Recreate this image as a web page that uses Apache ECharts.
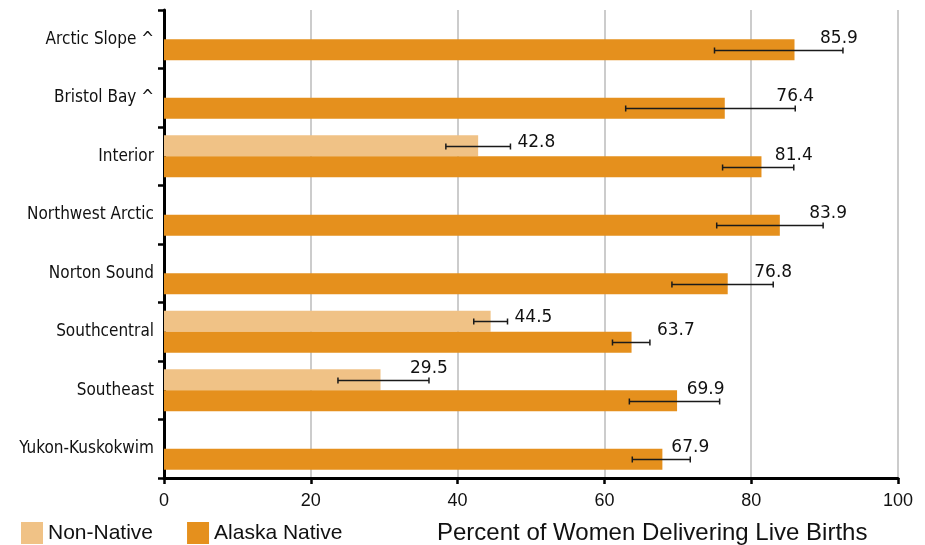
<!DOCTYPE html>
<html>
<head>
<meta charset="utf-8">
<script src="https://cdn.jsdelivr.net/npm/echarts@6/dist/echarts.min.js"></script>
<style>
  html, body { margin: 0; padding: 0; background: #fff; }
  #chart { width: 925px; height: 545px; }
</style>
</head>
<body>
<div id="chart"></div>
<script>
var categories = ['Arctic Slope ^', 'Bristol Bay ^', 'Interior', 'Northwest Arctic', 'Norton Sound', 'Southcentral', 'Southeast', 'Yukon-Kuskokwim']
var nonNative = [null, null, 42.8, null, null, 44.5, 29.5, null]
var nonNativeLow = [null, null, 38.4, null, null, 42.2, 23.7, null]
var nonNativeHigh = [null, null, 47.2, null, null, 46.8, 36.1, null]
var alaskaNative = [85.9, 76.4, 81.4, 83.9, 76.8, 63.7, 69.9, 67.9]
var alaskaNativeLow = [75.0, 62.9, 76.1, 75.3, 69.2, 61.1, 63.4, 63.8]
var alaskaNativeHigh = [92.5, 86.0, 85.8, 89.8, 83.0, 66.2, 75.7, 71.7]
var xMin = 0
var xMax = 100
var xStep = 20

var BAR_W = 21
var labelFont = '17px "DejaVu Sans", sans-serif'
// where each value label sits next to its error bar (hand placed in the original)
var labelNudge = {
  'nn2': { side: true },
  'nn5': { side: true },
  'an0': { dx: -4 },
  'an3': { dx: 5 },
  'an5': { dx: 26 },
  'an6': { dx: -14 }
}

function errData(vals, lows, highs) {
  var out = []
  for (var i = 0; i < vals.length; i++) {
    if (vals[i] == null) continue
    out.push([i, lows[i], highs[i], vals[i]])
  }
  return out
}

function errRenderer(key, offset) {
  return function (params, api) {
    var cat = api.value(0)
    var p1 = api.coord([api.value(1), cat])
    var p2 = api.coord([api.value(2), cat])
    var y = Math.round(p1[1] + offset) + 0.5
    var cap = 3
    var nudge = labelNudge[key + cat] || {}
    var text
    if (nudge.side) {
      text = { type: 'text', style: { text: api.value(3).toFixed(1), x: p2[0] + 7, y: y - 4, fill: '#111', font: labelFont, align: 'left', verticalAlign: 'middle' } }
    } else {
      text = { type: 'text', style: { text: api.value(3).toFixed(1), x: p2[0] + (nudge.dx || 0), y: y - 12, fill: '#111', font: labelFont, align: 'center', verticalAlign: 'middle' } }
    }
    var ls = { stroke: '#1a1a1a', lineWidth: 1.5 }
    return {
      type: 'group',
      children: [
        { type: 'line', shape: { x1: p1[0], y1: y, x2: p2[0], y2: y }, style: ls },
        { type: 'line', shape: { x1: p1[0], y1: y - cap, x2: p1[0], y2: y + cap }, style: ls },
        { type: 'line', shape: { x1: p2[0], y1: y - cap, x2: p2[0], y2: y + cap }, style: ls },
        text
      ]
    }
  }
}

var chart = echarts.init(document.getElementById('chart'))
chart.setOption({
  backgroundColor: '#fff',
  animation: false,
  title: {
    text: 'Percent of Women Delivering Live Births',
    left: 437,
    top: 521,
    padding: 0,
    textStyle: { fontFamily: 'Liberation Sans', fontSize: 24, fontWeight: 'normal', color: '#111' }
  },
  legend: {
    left: 21,
    top: 522,
    padding: 0,
    icon: 'rect',
    itemWidth: 22,
    itemHeight: 22,
    itemGap: 34,
    selectedMode: false,
    data: ['Non-Native', 'Alaska Native'],
    textStyle: { fontFamily: 'Liberation Sans', fontSize: 21, color: '#111', padding: [0, 0, 0, 0] }
  },
  grid: {
    left: 164,
    right: 27,
    top: 10,
    bottom: 67,
    containLabel: false
  },
  xAxis: {
    type: 'value',
    min: xMin,
    max: xMax,
    interval: xStep,
    axisLine: { show: true, lineStyle: { color: '#000', width: 3 } },
    axisTick: { show: true, length: 6, lineStyle: { color: '#000', width: 2.5 } },
    axisLabel: { margin: 14, fontFamily: 'Liberation Sans', fontSize: 18, color: '#111' },
    splitLine: { show: true, lineStyle: { color: '#cccccc', width: 2 } }
  },
  yAxis: {
    type: 'category',
    inverse: true,
    data: categories,
    axisLine: { show: true, lineStyle: { color: '#000', width: 3 } },
    axisTick: { show: true, length: 6, lineStyle: { color: '#000', width: 2.5 } },
    axisLabel: { margin: 10, fontFamily: '"Liberation Sans Narrow", "DejaVu Sans Condensed", sans-serif', fontSize: 17, color: '#111' },
    splitLine: { show: false }
  },
  series: [
    {
      name: 'Non-Native',
      type: 'bar',
      barWidth: BAR_W,
      barGap: '0%',
      data: nonNative,
      itemStyle: { color: '#F0C286' }
    },
    {
      name: 'Alaska Native',
      type: 'bar',
      barWidth: BAR_W,
      barGap: '0%',
      data: alaskaNative,
      itemStyle: { color: '#E5901D' }
    },
    {
      type: 'custom',
      renderItem: errRenderer('nn', -BAR_W / 2),
      data: errData(nonNative, nonNativeLow, nonNativeHigh),
      encode: { x: [1, 2], y: 0 },
      clip: false,
      z: 10
    },
    {
      type: 'custom',
      renderItem: errRenderer('an', BAR_W / 2),
      data: errData(alaskaNative, alaskaNativeLow, alaskaNativeHigh),
      encode: { x: [1, 2], y: 0 },
      clip: false,
      z: 10
    }
  ]
})
</script>
</body>
</html>
